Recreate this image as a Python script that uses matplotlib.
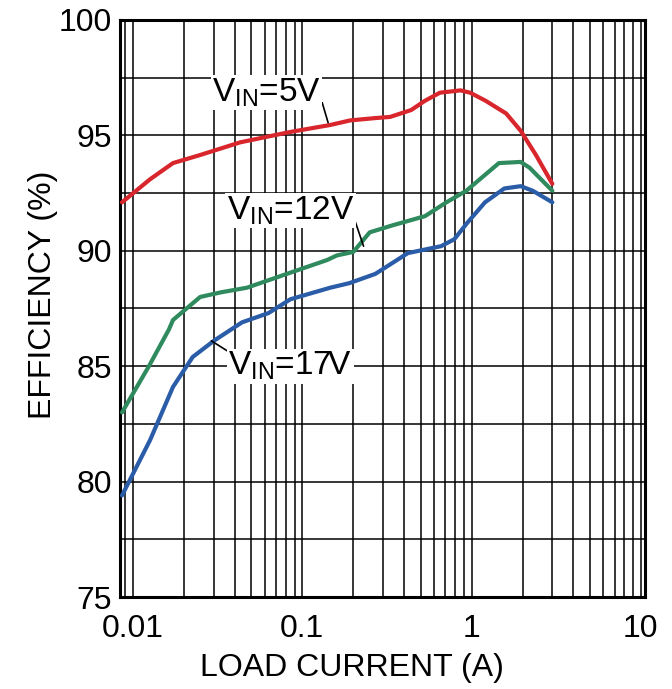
import matplotlib
matplotlib.use('agg')
import matplotlib.pyplot as plt
from matplotlib.ticker import LogLocator, FixedLocator, NullFormatter

plt.rcParams['font.family'] = ['Liberation Sans', 'DejaVu Sans']
plt.rcParams['mathtext.default'] = 'regular'

# load current (A) and efficiency (%)
i_5v = [0.0086, 0.0126, 0.0172, 0.0249, 0.043, 0.085, 0.146, 0.192, 0.27, 0.33,
        0.44, 0.53, 0.65, 0.86, 0.98, 1.21, 1.60, 1.95, 2.4, 3.0]
eff_5v = [92.1, 93.1, 93.8, 94.15, 94.7, 95.15, 95.45, 95.65, 95.75, 95.8,
          96.1, 96.5, 96.85, 96.95, 96.85, 96.5, 95.95, 95.2, 94.15, 92.9]

i_12v = [0.0086, 0.0124, 0.0163, 0.0172, 0.0249, 0.033, 0.047, 0.081, 0.14, 0.16,
         0.20, 0.25, 0.34, 0.53, 0.71, 0.93, 1.45, 1.95, 2.2, 3.0]
eff_12v = [83.0, 85.0, 86.6, 87.0, 88.0, 88.2, 88.4, 89.0, 89.6, 89.8,
           89.95, 90.8, 91.1, 91.5, 92.1, 92.6, 93.8, 93.85, 93.6, 92.6]

i_17v = [0.0086, 0.0126, 0.0172, 0.0225, 0.030, 0.044, 0.063, 0.085, 0.146, 0.19,
         0.27, 0.42, 0.66, 0.79, 0.94, 1.2, 1.56, 1.95, 2.3, 3.0]
eff_17v = [79.4, 81.8, 84.1, 85.4, 86.1, 86.9, 87.3, 87.9, 88.4, 88.6,
           89.0, 89.9, 90.2, 90.5, 91.2, 92.1, 92.7, 92.8, 92.6, 92.1]

x_ticks = [0.01, 0.1, 1, 10]
x_labels = ['0.01', '0.1', '1', '10']
y_ticks = [75, 80, 85, 90, 95, 100]
y_grid = [75, 77.5, 80, 82.5, 85, 87.5, 90, 92.5, 95, 97.5, 100]

fig = plt.figure(figsize=(6.72, 6.89), dpi=100)
ax = fig.add_axes([0.179, 0.1335, 0.781, 0.8375])

for xs, ys, c in [(i_5v, eff_5v, '#d8262c'), (i_12v, eff_12v, '#2f8a5e'),
                  (i_17v, eff_17v, '#2a5ca8')]:
    ax.plot(xs, ys, color=c, lw=3, zorder=3, solid_joinstyle='round',
            solid_capstyle='round')

ax.set_xscale('log')
ax.set_xlim(0.0084, 10.6)
ax.set_ylim(75, 100)
ax.set_xticks(x_ticks)
ax.set_xticklabels(x_labels)
ax.xaxis.set_minor_locator(LogLocator(base=10, subs=range(2, 10)))
ax.xaxis.set_minor_formatter(NullFormatter())
ax.set_yticks(y_ticks)
ax.yaxis.set_minor_locator(FixedLocator(y_grid))

ax.grid(True, which='both', color='black', lw=1.1)
ax.tick_params(which='both', length=0, labelsize=23)
ax.tick_params(axis='x', pad=12)
ax.tick_params(axis='y', pad=6)
for s in ax.spines.values():
    s.set_linewidth(2.2)

ax.set_xlabel('LOAD CURRENT (A)', fontsize=23)
ax.set_ylabel('EFFICIENCY (%)', fontsize=23)
ax.xaxis.set_label_coords(0.442, -0.097)
ax.yaxis.set_label_coords(-0.118, 0.523)

box = dict(facecolor='white', edgecolor='none', pad=1)
line = dict(arrowstyle='-', color='black', lw=1.2, shrinkA=0, shrinkB=0)
ax.annotate('$V_{IN}$=5V', xy=(0.142, 95.55), xytext=(0.0613, 96.85),
            fontsize=24, ha='center', va='center', bbox=box, zorder=4,
            arrowprops=dict(line, relpos=(0.95, 0.9)))
ax.annotate('$V_{IN}$=12V', xy=(0.23, 90.2), xytext=(0.085, 91.75),
            fontsize=24, ha='center', va='center', bbox=box, zorder=4,
            arrowprops=dict(line, relpos=(0.97, 0.6)))
ax.annotate('$V_{IN}$=17V', xy=(0.029, 86.1), xytext=(0.085, 85.0),
            fontsize=24, ha='center', va='center', bbox=box, zorder=4,
            arrowprops=dict(line, relpos=(0.02, 0.9)))

fig.savefig('out.png', dpi=100)
